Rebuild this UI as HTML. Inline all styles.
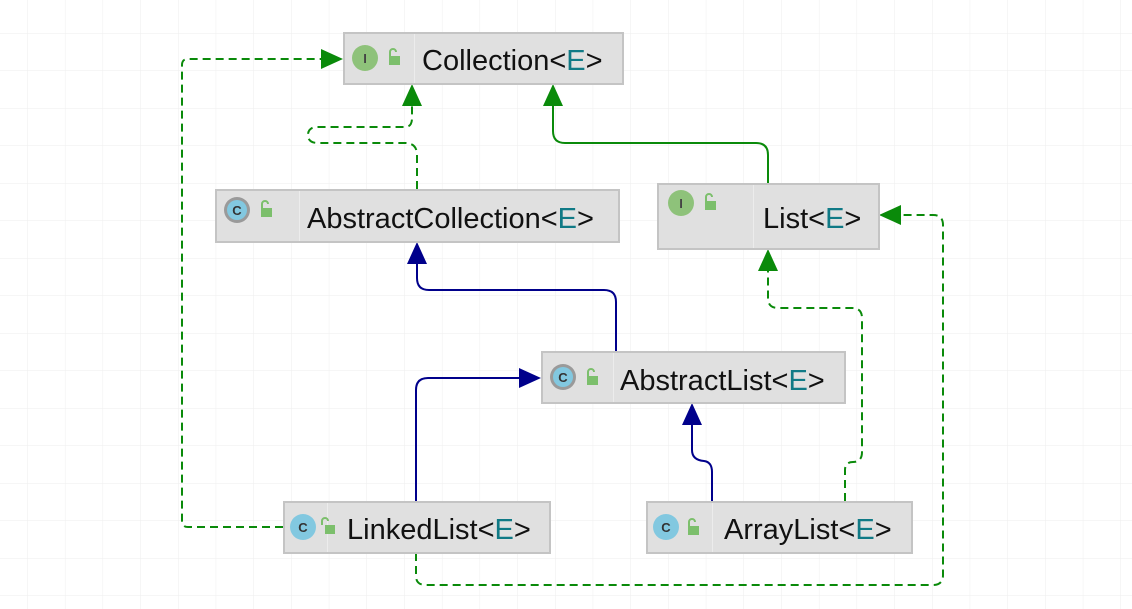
<!DOCTYPE html>
<html><head><meta charset="utf-8"><style>
html,body{margin:0;padding:0;background:#fff;}
svg{display:block;}
text{font-family:"Liberation Sans",sans-serif;}
</style></head><body>
<svg width="1132" height="609" viewBox="0 0 1132 609" xmlns="http://www.w3.org/2000/svg">
<defs>
<pattern id="g" width="37.7" height="37.5" patternUnits="userSpaceOnUse" x="-10" y="-4">
<path d="M37.7 0V37.5M0 37.5H37.7" fill="none" stroke="#eeeeee" stroke-width="1"/>
</pattern>
</defs>
<rect width="1132" height="609" fill="url(#g)"/>
<g fill="none" stroke-width="2">
<path d="M283 527H188Q182 527 182 521V65Q182 59 188 59H330" stroke="#0a8a0a" stroke-dasharray="8,5"/>
<path d="M417 189V155Q417 143 405 143H318Q308 143 308 135Q308 127 318 127H405Q412 127 412 118V100" stroke="#0a8a0a" stroke-dasharray="8,5"/>
<path d="M768 183V155Q768 143 756 143H565Q553 143 553 131V100" stroke="#0a8a0a"/>
<path d="M616 351V302Q616 290 604 290H429Q417 290 417 278V258" stroke="#00008b"/>
<path d="M416 501V390Q416 378 428 378H528" stroke="#00008b"/>
<path d="M712 501V472Q712 462 704 461Q692 460 692 450V418" stroke="#00008b"/>
<path d="M845 501V470Q845 462 853 462Q862 462 862 452V318Q862 308 852 308H778Q768 308 768 298V266" stroke="#0a8a0a" stroke-dasharray="8,5"/>
<path d="M416 553V576Q416 585 426 585H933Q943 585 943 575V225Q943 215 933 215H895" stroke="#0a8a0a" stroke-dasharray="8,5"/>
</g>
<g>
<polygon points="343,59 321,49 321,69" fill="#0a8a0a"/>
<polygon points="412,84 402,106 422,106" fill="#0a8a0a"/>
<polygon points="553,84 543,106 563,106" fill="#0a8a0a"/>
<polygon points="417,242 407,264 427,264" fill="#00008b"/>
<polygon points="541,378 519,368 519,388" fill="#00008b"/>
<polygon points="692,403 682,425 702,425" fill="#00008b"/>
<polygon points="768,249 758,271 778,271" fill="#0a8a0a"/>
<polygon points="879,215 901,205 901,225" fill="#0a8a0a"/>
</g>
<g stroke="#c4c4c4" stroke-width="2" fill="#e0e0e0">
<rect x="344" y="33" width="279" height="51"/>
<rect x="216" y="190" width="403" height="52"/>
<rect x="658" y="184" width="221" height="65"/>
<rect x="542" y="352" width="303" height="51"/>
<rect x="284" y="502" width="266" height="51"/>
<rect x="647" y="502" width="265" height="51"/>
</g>
<g stroke="#ececec" stroke-width="1">
<path d="M414.5 34V83M299.5 191V241M753.5 185V248M613.5 353V402M327.5 503V552M712.5 503V552"/>
</g>
<g font-size="13" font-weight="bold" text-anchor="middle">
<circle cx="365" cy="58" r="13" fill="#8ec27a"/><text x="365" y="63" fill="#444">I</text>
<circle cx="237" cy="210" r="13" fill="#9a9a9a"/><circle cx="237" cy="210" r="10" fill="#82c8e0"/><text x="237" y="215" fill="#333">C</text>
<circle cx="681" cy="203" r="13" fill="#8ec27a"/><text x="681" y="208" fill="#444">I</text>
<circle cx="563" cy="377" r="13" fill="#9a9a9a"/><circle cx="563" cy="377" r="10" fill="#82c8e0"/><text x="563" y="382" fill="#333">C</text>
<circle cx="303" cy="527" r="13" fill="#82c8e0"/><text x="303" y="532" fill="#333">C</text>
<circle cx="666" cy="527" r="13" fill="#82c8e0"/><text x="666" y="532" fill="#333">C</text>
</g>
<g fill="#7cbf6c">
<rect x="389" y="56" width="11" height="9"/><path d="M390 56v-4a3 3 0 0 1 6 0" stroke="#7cbf6c" stroke-width="2" fill="none"/>
<rect x="261" y="208" width="11" height="9"/><path d="M262 208v-4a3 3 0 0 1 6 0" stroke="#7cbf6c" stroke-width="2" fill="none"/>
<rect x="705" y="201" width="11" height="9"/><path d="M706 201v-4a3 3 0 0 1 6 0" stroke="#7cbf6c" stroke-width="2" fill="none"/>
<rect x="587" y="376" width="11" height="9"/><path d="M588 376v-4a3 3 0 0 1 6 0" stroke="#7cbf6c" stroke-width="2" fill="none"/>
<rect x="325" y="525" width="10" height="9"/><path d="M322 525v-4a3 3 0 0 1 6 0" stroke="#7cbf6c" stroke-width="2" fill="none"/>
<rect x="688" y="526" width="11" height="9"/><path d="M689 526v-4a3 3 0 0 1 6 0" stroke="#7cbf6c" stroke-width="2" fill="none"/>
</g>
<g font-size="29" fill="#111">
<text x="422" y="70">Collection&lt;<tspan fill="#107a86">E</tspan>&gt;</text>
<text x="307" y="228">AbstractCollection&lt;<tspan fill="#107a86">E</tspan>&gt;</text>
<text x="763" y="228">List&lt;<tspan fill="#107a86">E</tspan>&gt;</text>
<text x="620" y="390">AbstractList&lt;<tspan fill="#107a86">E</tspan>&gt;</text>
<text x="347" y="539">LinkedList&lt;<tspan fill="#107a86">E</tspan>&gt;</text>
<text x="724" y="539">ArrayList&lt;<tspan fill="#107a86">E</tspan>&gt;</text>
</g>
</svg>
</body></html>
